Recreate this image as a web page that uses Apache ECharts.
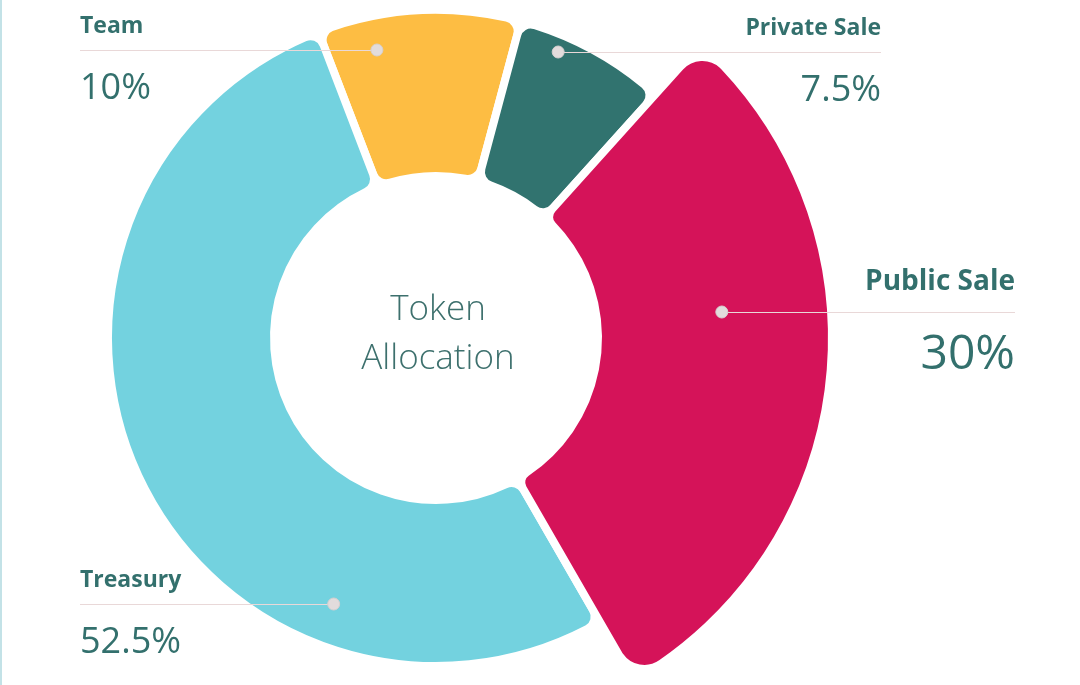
<!DOCTYPE html>
<html><head><meta charset="utf-8">
<script src="https://cdn.jsdelivr.net/npm/echarts@6/dist/echarts.min.js"></script>
<style>
html,body{margin:0;padding:0;background:#fff}
#c{width:1080px;height:685px}
#edge{position:absolute;left:0;top:0;width:2px;height:685px;background:#c3e2e7}
</style>
</head><body><div id="c"></div><div id="edge"></div>
<script>
// ---- data ----
const categories = ['Team', 'Private Sale', 'Public Sale', 'Treasury'];
const shares = [10, 7.5, 30, 52.5];
const centerTitle = ['Token', 'Allocation'];

// ---- styles / layout ----
const palette = ['#FDBD43', '#31736F', '#D51359', '#73D2DF'];
const TEXT = '#33706D';
const FONT = '"Open Sans", "Noto Sans", sans-serif';
const CX = 436, CY = 338, R0 = 162, R1 = 328, R1BIG = 396, START = 111;
const bigSlice = 'Public Sale';
const labelCfg = {
  'Team':         { lineY: 50,  textX: 80,   align: 'left',  dotR: 294, key: 'L' },
  'Private Sale': { lineY: 52,  textX: 881,  align: 'right', dotR: 311, key: 'R' },
  'Public Sale':  { lineY: 312, textX: 1015, align: 'right', dotR: 287, key: 'B' },
  'Treasury':     { lineY: 604, textX: 80,   align: 'left',  dotR: 285, key: 'L' }
};

const total = shares.reduce((a, b) => a + b, 0);
function sideOf(i) {
  let cum = 0;
  for (let k = 0; k < i; k++) cum += shares[k];
  const mid = (START - 360 * (cum + shares[i] / 2) / total) * Math.PI / 180;
  return Math.cos(mid) < 0 ? -1 : 1;
}
function dotPos(i) {
  const c = labelCfg[categories[i]];
  const dy = c.lineY - CY;
  return [CX + sideOf(i) * Math.sqrt(c.dotR * c.dotR - dy * dy), c.lineY];
}

const rich = {
  nL: { fontFamily: FONT, fontSize: 23, fontWeight: 'bold', color: TEXT, lineHeight: 30, align: 'left' },
  vL: { fontFamily: FONT, fontSize: 36, fontWeight: 500, color: TEXT, lineHeight: 94, align: 'left' },
  nR: { fontFamily: FONT, fontSize: 23, fontWeight: 'bold', color: TEXT, lineHeight: 30, align: 'right' },
  vR: { fontFamily: FONT, fontSize: 36, fontWeight: 500, color: TEXT, lineHeight: 94, align: 'right' },
  nB: { fontFamily: FONT, fontSize: 28, fontWeight: 'bold', color: TEXT, lineHeight: 36, align: 'right' },
  vB: { fontFamily: FONT, fontSize: 48, fontWeight: 500, color: TEXT, lineHeight: 109, align: 'right' }
};

function labelLayout(params) {
  const c = labelCfg[categories[params.dataIndex]];
  const off = c.key === 'B' ? 47.5 : 38.5;
  return { x: c.textX, y: c.lineY - off, align: c.align, verticalAlign: 'top' };
}

function makeSeries(showBig) {
  return {
    type: 'pie',
    center: [CX, CY],
    radius: [R0, showBig ? R1BIG : R1],
    startAngle: START,
    clockwise: true,
    avoidLabelOverlap: false,
    animation: false,
    silent: true,
    emphasis: { disabled: true },
    z: showBig ? 3 : 2,
    itemStyle: { borderColor: '#ffffff', borderWidth: 8, borderRadius: showBig ? [12, 30] : 14 },
    label: {
      show: true, position: 'outside',
      formatter: p => `{n${labelCfg[p.name].key}|${p.name}}\n{v${labelCfg[p.name].key}|${p.value}%}`,
      rich: rich
    },
    labelLine: { show: false },
    labelLayout: labelLayout,
    data: categories.map((name, i) => {
      const visible = showBig ? name === bigSlice : name !== bigSlice;
      return {
        name: name, value: shares[i],
        itemStyle: visible ? { color: palette[i] } : { color: 'rgba(0,0,0,0)', borderWidth: 0 },
        label: { show: visible }
      };
    })
  };
}

const guides = [];
categories.forEach((name, i) => {
  const d = dotPos(i);
  const c = labelCfg[name];
  guides.push({
    type: 'polyline', z: 99,
    shape: { points: [[d[0], c.lineY + 0.5], [c.textX, c.lineY + 0.5]] },
    style: { stroke: '#e9d8d8', lineWidth: 1, fill: null }
  });
  guides.push({ type: 'circle', z: 100, shape: { cx: d[0], cy: d[1], r: 6 }, style: { fill: '#e2dcdc', stroke: '#d6d0d0', lineWidth: 1 } });
});

const chart = echarts.init(document.getElementById('c'), null, { renderer: 'canvas' });
chart.setOption({
  backgroundColor: '#ffffff',
  series: [makeSeries(false), makeSeries(true)],
  graphic: guides.concat([{
    type: 'text', z: 100, x: 438, y: 335,
    style: {
      text: centerTitle.join('\n'), fill: '#3D706D', fontFamily: FONT, fontSize: 35,
      fontWeight: 300, lineHeight: 49, align: 'center', verticalAlign: 'middle'
    }
  }])
});
</script>
</body></html>
